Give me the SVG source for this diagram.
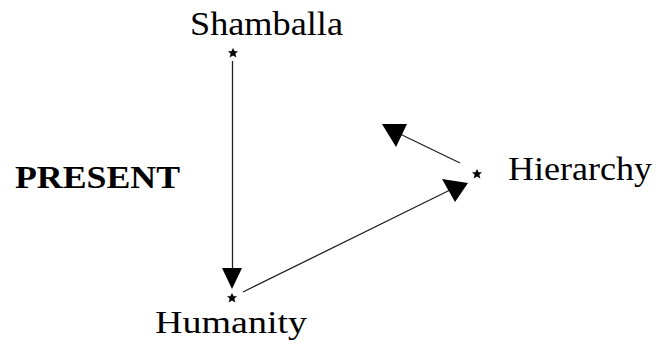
<svg xmlns="http://www.w3.org/2000/svg" width="657" height="343" viewBox="0 0 657 343">
<defs>
<style>
.lbl{font-family:"Liberation Serif","Times New Roman",serif;fill:#000}
.ln{stroke:#222;stroke-width:1.3;fill:none}
.head{fill:#000}
.star{fill:#000}
</style>
<polygon id="st" points="0,-5 1.6,-1.8 5,-1.8 2.3,0.8 3.4,4.6 0,2.5 -3.4,4.6 -2.3,0.8 -5,-1.8 -1.6,-1.8"/>
</defs>
<rect width="657" height="343" fill="#fff"/>
<g id="connectors">
<line class="ln" x1="232.5" y1="61" x2="232.5" y2="270"/>
<polygon class="head" points="222,268 242,268 232,289"/>
<line class="ln" x1="243" y1="292" x2="450" y2="190"/>
<polygon class="head" points="442,179 468,183 455,202"/>
<line class="ln" x1="460" y1="163" x2="400" y2="134"/>
<polygon class="head" points="382,124 407,124 396,147"/>
</g>
<g id="shamballa">
<use href="#st" class="star" x="233" y="53"/>
<text class="lbl" x="190" y="35" font-size="33" textLength="153" lengthAdjust="spacingAndGlyphs">Shamballa</text>
</g>
<g id="hierarchy">
<use href="#st" class="star" x="477" y="174"/>
<text class="lbl" x="508" y="180" font-size="33" textLength="144" lengthAdjust="spacingAndGlyphs">Hierarchy</text>
</g>
<g id="humanity">
<use href="#st" class="star" x="232" y="298"/>
<text class="lbl" x="155" y="333" font-size="32" textLength="152" lengthAdjust="spacingAndGlyphs">Humanity</text>
</g>
<g id="present">
<text class="lbl" x="15" y="188" font-size="31" font-weight="bold" textLength="165" lengthAdjust="spacingAndGlyphs">PRESENT</text>
</g>
</svg>
